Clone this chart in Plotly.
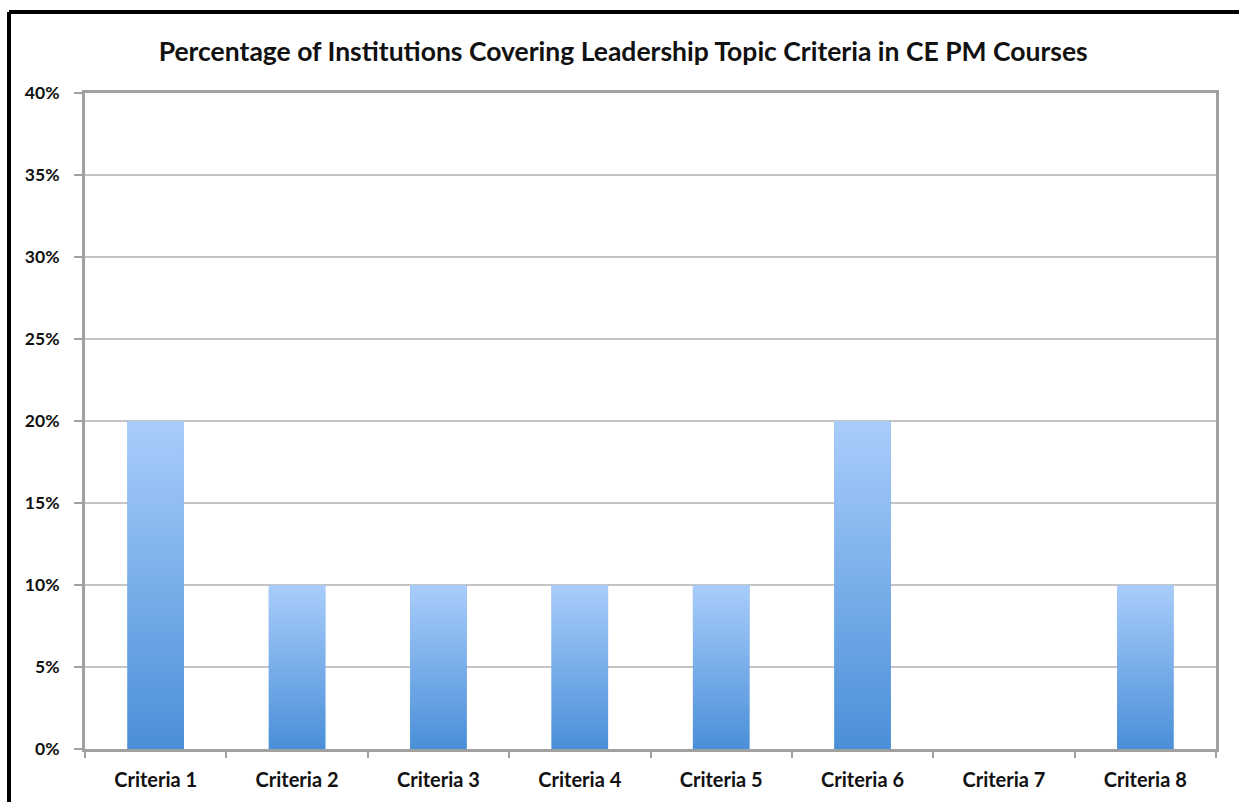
import plotly.graph_objects as go

categories = ["Criteria 1", "Criteria 2", "Criteria 3", "Criteria 4",
              "Criteria 5", "Criteria 6", "Criteria 7", "Criteria 8"]
values = [0.20, 0.10, 0.10, 0.10, 0.10, 0.20, 0.0, 0.10]
title_text = "Percentage of Institutions Covering Leadership Topic Criteria in CE PM Courses"

FONT = "Lato"
DARK = "#4a8fd8"
LIGHT = "#a9cdfb"
BAR_W = 0.40

idx = list(range(len(categories)))

fig = go.Figure()
fig.add_trace(go.Bar(x=idx, y=values, width=BAR_W, marker=dict(color="#78aae8", line=dict(width=0)),
                     hovertext=categories, showlegend=False))

hw = BAR_W / 2
for i, v in zip(idx, values):
    if v <= 0:
        continue
    fig.add_trace(go.Scatter(
        x=[i - hw, i - hw, i + hw, i + hw, i - hw],
        y=[0, v, v, 0, 0],
        mode="lines", line=dict(width=0), fill="toself",
        fillgradient=dict(type="vertical", colorscale=[[0, DARK], [1, LIGHT]]),
        showlegend=False, hoverinfo="skip"))

fig.update_layout(
    width=1239, height=802,
    margin=dict(l=85, r=23, t=93, b=53),
    paper_bgcolor="white", plot_bgcolor="white",
    title=dict(text="<b>" + title_text + "</b>", x=0.503, xanchor="center", y=0.935, yanchor="middle",
               font=dict(family=FONT, size=26.5, color="#111111")),
    font=dict(family=FONT, color="#111111"),
    showlegend=False,
    shapes=[
        dict(type="line", xref="paper", yref="paper", x0=-0.0672, x1=1.05, y0=1.1235, y1=1.1235,
             line=dict(color="black", width=4)),
        dict(type="line", xref="paper", yref="paper", x0=-0.0672, x1=-0.0672, y0=1.1235, y1=-0.1,
             line=dict(color="black", width=4)),
    ],
)

fig.update_xaxes(
    range=[-0.5, 7.5], tickmode="array", tickvals=idx,
    ticktext=["<b>" + c + "</b>" for c in categories],
    tickfont=dict(family=FONT, size=20, color="#111111"),
    ticks="", showgrid=False, zeroline=False,
    showline=True, linecolor="#a0a0a0", linewidth=3, mirror=True,
    minor=dict(tickmode="array", tickvals=[k - 0.5 for k in range(len(categories) + 1)],
               ticks="outside", ticklen=6, tickcolor="#a0a0a0", tickwidth=2, showgrid=False),
    ticklabelstandoff=11,
)
fig.update_yaxes(
    range=[0, 0.4], dtick=0.05, tickformat=".0%",
    tickfont=dict(family=FONT, size=17.5, color="#111111"),
    ticks="outside", ticklen=8, tickcolor="#a0a0a0", tickwidth=2,
    showgrid=True, gridcolor="#c4c4c4", gridwidth=2, zeroline=False,
    showline=True, linecolor="#a0a0a0", linewidth=3, mirror=True,
    ticklabelstandoff=11,
)
fig.for_each_yaxis(lambda a: a.update(tickprefix="<b>", ticksuffix="</b>"))

fig.write_html("out.html", config={"displayModeBar": False},
               post_script="document.body.style.margin='0';")
